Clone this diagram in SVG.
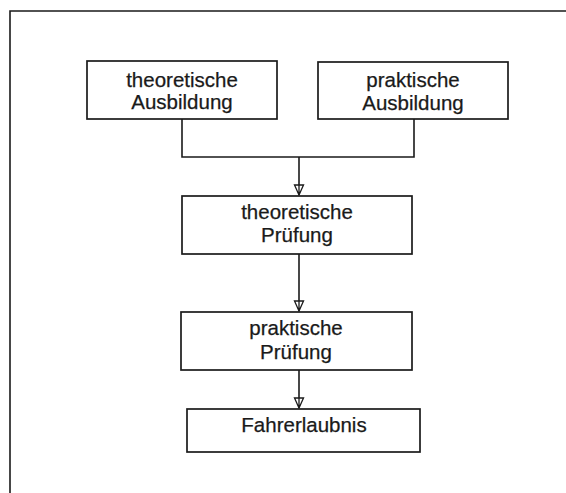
<svg xmlns="http://www.w3.org/2000/svg" width="566" height="493" viewBox="0 0 566 493">
  <defs>
    <style>
      .box { fill: #ffffff; stroke: #1a1a1a; stroke-width: 1.7; }
      .lbl { font-family: "Liberation Sans", Arial, sans-serif; font-size: 20.5px; fill: #1a1a1a; stroke: #1a1a1a; stroke-width: 0.25; text-anchor: middle; }
      .conn { fill: none; stroke: #1a1a1a; stroke-width: 1.6; }
      .frame { fill: none; stroke: #1a1a1a; stroke-width: 1.6; }
    </style>
    <marker id="arr" markerUnits="userSpaceOnUse" markerWidth="12" markerHeight="12" viewBox="0 0 12 12" refX="11" refY="6" orient="auto">
      <path d="M1,1.5 L11,6 L1,10.5 Z M1,6 L11,6" fill="#ffffff" stroke="#1a1a1a" stroke-width="1.3"/>
    </marker>
  </defs>
  <rect width="566" height="493" fill="#ffffff"/>
  <path class="frame" d="M10,500 L10,11 L570,11"/>

  <g id="connectors">
    <path class="conn" d="M182,119 L182,157 L414,157 L414,119"/>
    <path class="conn" d="M299,157 L299,195" marker-end="url(#arr)"/>
    <path class="conn" d="M299,254 L299,311" marker-end="url(#arr)"/>
    <path class="conn" d="M299,370 L299,408" marker-end="url(#arr)"/>
  </g>

  <g id="theoretische-ausbildung">
    <rect class="box" x="87" y="61" width="190" height="58"/>
    <text class="lbl" x="182" y="87">theoretische</text>
    <text class="lbl" x="182" y="109">Ausbildung</text>
  </g>
  <g id="praktische-ausbildung">
    <rect class="box" x="318" y="62" width="190" height="57"/>
    <text class="lbl" x="413" y="87">praktische</text>
    <text class="lbl" x="413" y="110">Ausbildung</text>
  </g>
  <g id="theoretische-pruefung">
    <rect class="box" x="182" y="196" width="230" height="58"/>
    <text class="lbl" x="297" y="219">theoretische</text>
    <text class="lbl" x="297" y="242">Prüfung</text>
  </g>
  <g id="praktische-pruefung">
    <rect class="box" x="181" y="312" width="231" height="58"/>
    <text class="lbl" x="296" y="335">praktische</text>
    <text class="lbl" x="296" y="359">Prüfung</text>
  </g>
  <g id="fahrerlaubnis">
    <rect class="box" x="187" y="409" width="233" height="43"/>
    <text class="lbl" x="304" y="432">Fahrerlaubnis</text>
  </g>
</svg>
